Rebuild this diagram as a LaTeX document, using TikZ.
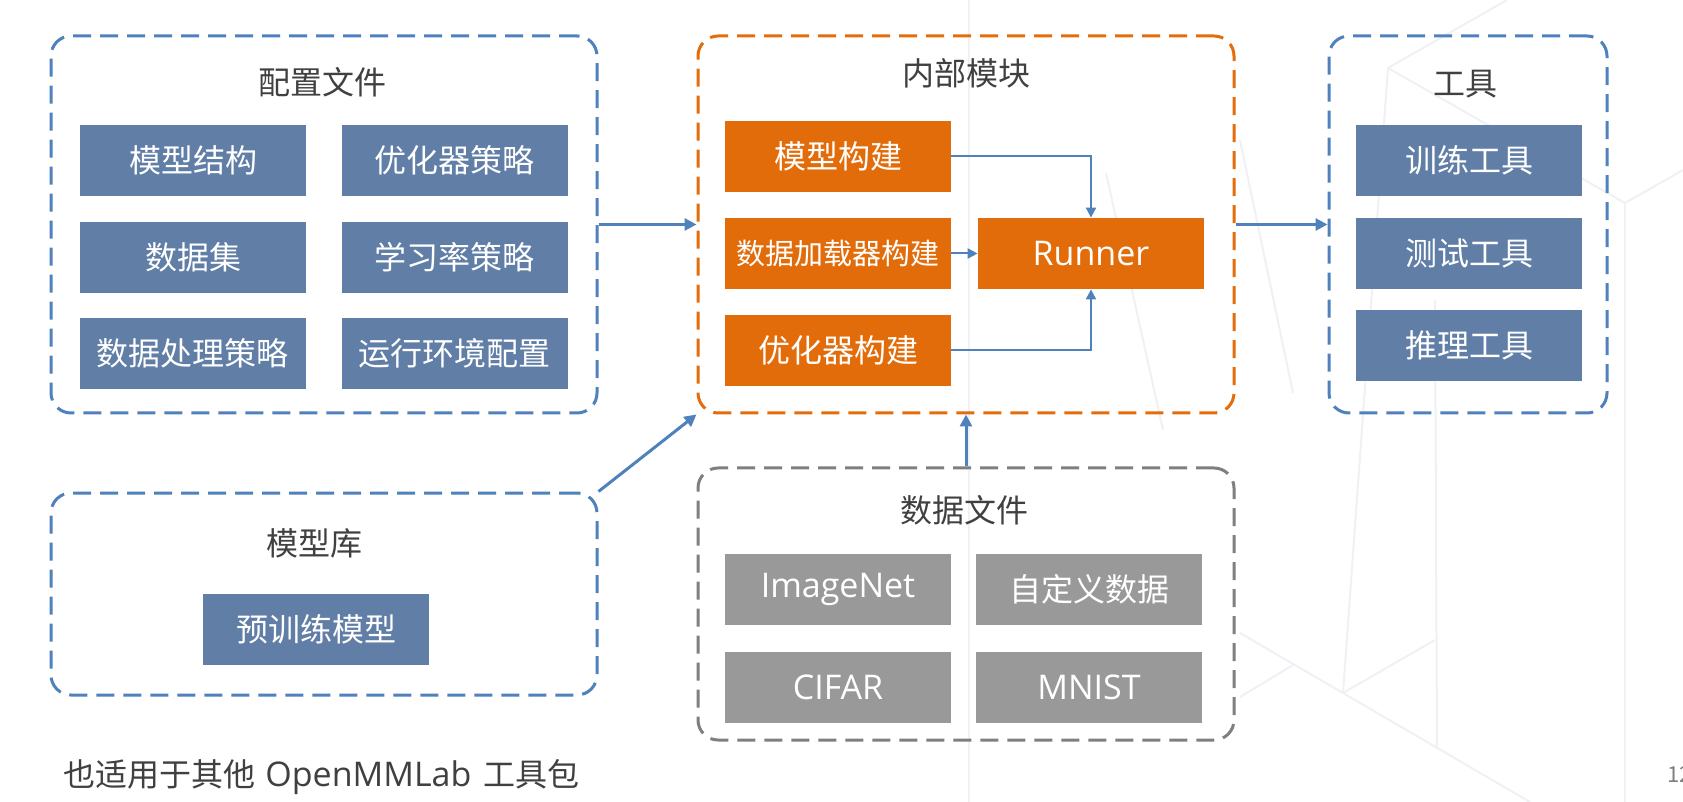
\documentclass[tikz,border=0pt]{standalone}
\usepackage{fontspec}
\setmainfont{Noto Sans CJK SC}
\newfontfamily\latfont{Open Sans}
\usetikzlibrary{arrows.meta}
\definecolor{boxblue}{RGB}{96,126,166}
\definecolor{boxorange}{RGB}{227,108,10}
\definecolor{boxgray}{RGB}{153,153,153}
\definecolor{lineblue}{RGB}{79,129,189}
\definecolor{dashorange}{RGB}{228,108,10}
\definecolor{dashgray}{RGB}{127,127,127}
\definecolor{titlegray}{RGB}{64,64,64}
\definecolor{bgline}{RGB}{240,241,245}
\tikzset{
  container/.style={draw, dash pattern=on 9pt off 4.5pt, line width=1.5pt, rounded corners=10pt, inner sep=0pt},
  cell/.style={inner sep=0pt, minimum width=113pt, minimum height=35.5pt, text=white, font=\fontsize{16pt}{19pt}\selectfont},
  bluecell/.style={cell, fill=boxblue},
  orangecell/.style={cell, fill=boxorange},
  graycell/.style={cell, fill=boxgray},
  latcell/.style={font=\latfont\fontsize{17pt}{20pt}\selectfont},
  title/.style={text=titlegray, inner sep=0pt, font=\fontsize{16pt}{19pt}\selectfont},
  arr/.style={draw=lineblue, line width=1.5pt, -{Triangle[length=6pt,width=6pt]}},
  arrthin/.style={draw=lineblue, line width=1pt, -{Triangle[length=5pt,width=5pt]}},
  bg/.style={draw=bgline, line width=1pt}
}
\begin{document}
\begin{tikzpicture}[x=0.5pt,y=-0.5pt]
\useasboundingbox (0,0) rectangle (1683,802);
\fill[white] (0,0) rectangle (1683,802);

% faint background lines
\draw[bg] (1240,633) -- (1530,802);
\draw[bg] (1240,697) -- (1293,665);
\draw[bg] (1343,693) -- (1388,68);
\draw[bg] (1343,693) -- (1435,640);
\draw[bg] (1435,300) -- (1437,747);
\draw[bg] (1625,203) -- (1625,802);
\draw[bg] (1625,203) -- (1683,170);
\draw[bg] (1388,68) -- (1625,203);
\draw[bg] (1388,68) -- (1507,0);
\draw[bg] (1240,140) -- (1293,393);
\draw[bg] (969,0) -- (969,802);
\draw[bg] (1106,173) -- (1163,430);

% containers
\node[container, draw=lineblue, minimum width=273pt, minimum height=188.5pt] (cfg) at (324,224.5) {};
\node[container, draw=dashorange, minimum width=268pt, minimum height=188.5pt] (inner) at (966,224.5) {};
\node[container, draw=lineblue, minimum width=139pt, minimum height=188.5pt] (tools) at (1468,224.5) {};
\node[container, draw=lineblue, minimum width=273pt, minimum height=101pt] (lib) at (324,594) {};
\node[container, draw=dashgray, minimum width=268pt, minimum height=136pt] (data) at (966,604) {};

% titles
\node[title] (tcfg) at (322,82) {配置文件};
\node[title] (tinner) at (966,73) {内部模块};
\node[title] (ttools) at (1465,84) {工具};
\node[title] (tlib) at (314,543) {模型库};
\node[title] (tdata) at (964,510) {数据文件};

% config cells
\node[bluecell] (c1) at (193,160.5) {模型结构};
\node[bluecell] (c2) at (454.5,160.5) {优化器策略};
\node[bluecell] (c3) at (193,257.5) {数据集};
\node[bluecell] (c4) at (454.5,257.5) {学习率策略};
\node[bluecell] (c5) at (193,353.5) {数据处理策略};
\node[bluecell] (c6) at (454.5,353.5) {运行环境配置};

% inner cells
\node[orangecell] (o1) at (838,156.5) {模型构建};
\node[orangecell, font=\fontsize{14.5pt}{17pt}\selectfont] (o2) at (838,253.5) {数据加载器构建};
\node[orangecell] (o3) at (838,350.5) {优化器构建};
\node[orangecell, latcell] (run) at (1091,253.5) {Runner};

% tools cells
\node[bluecell] (t1) at (1469,160.5) {训练工具};
\node[bluecell] (t2) at (1469,253.5) {测试工具};
\node[bluecell] (t3) at (1469,345.5) {推理工具};

% model lib
\node[bluecell] (p1) at (316,629.5) {预训练模型};

% data cells
\node[graycell, latcell] (d1) at (838,589.5) {ImageNet};
\node[graycell] (d2) at (1089,589.5) {自定义数据};
\node[graycell, latcell] (d3) at (838,687.5) {CIFAR};
\node[graycell, latcell] (d4) at (1089,687.5) {MNIST};

% arrows
\draw[arr] (cfg.east) -- (inner.west);
\draw[arr] (inner.east) -- (tools.west);
\draw[arr] (lib.north east) -- (inner.south west);
\draw[arr] (data.north) -- (inner.south);
\draw[arrthin] (o1.east) -| (run.north);
\draw[arrthin] (o2.east) -- (run.west);
\draw[arrthin] (o3.east) -| (run.south);

% footer
\node[title, anchor=west] (foot) at (63,777) {也适用于其他\hspace{5pt}{\latfont\fontsize{17pt}{20pt}\selectfont OpenMMLab}\hspace{6pt}工具包};
\node[anchor=west, inner sep=0pt, text=dashgray, font=\fontsize{11pt}{13pt}\selectfont] (pg) at (1667,775) {12};
\end{tikzpicture}
\end{document}
